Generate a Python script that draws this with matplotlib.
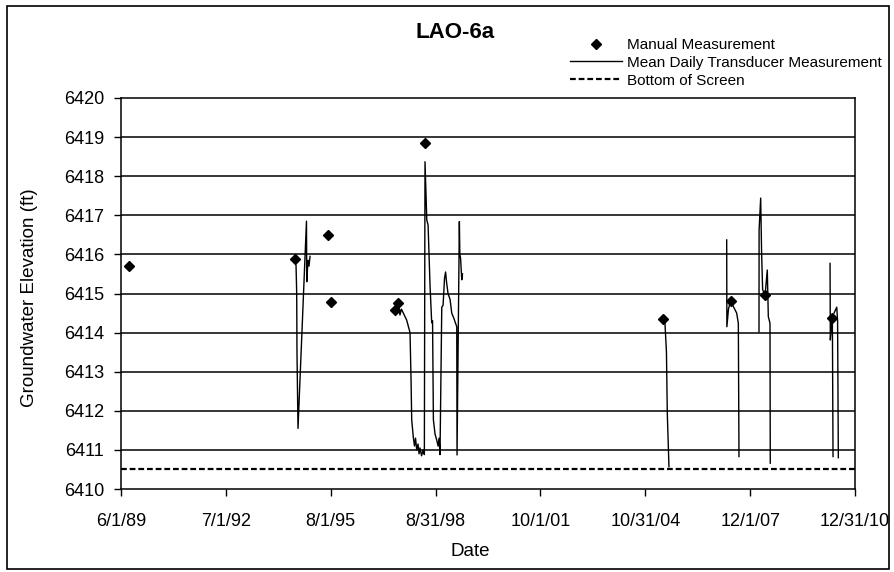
import pandas as pd
import matplotlib.pyplot as plt
import matplotlib.dates as mdates
from matplotlib.patches import Rectangle

plt.rcParams['font.family'] = ['Liberation Sans', 'DejaVu Sans']

# manual measurements (diamonds)
manual_dates = ['1989-08-26', '1994-07-14', '1995-06-30', '1995-08-04', '1997-06-22',
                '1997-07-29', '1998-05-13', '2005-05-12', '2007-05-06', '2008-05-09',
                '2010-05-02']
manual_elev = [6415.7, 6415.88, 6416.5, 6414.78, 6414.57,
               6414.75, 6418.85, 6414.35, 6414.82, 6414.95,
               6414.37]

# mean daily transducer record, one list per deployment
t94_dates = ['1994-07-14', '1994-07-25', '1994-08-01', '1994-08-04', '1994-08-15',
             '1994-11-14', '1994-11-17', '1994-11-30', '1994-12-11', '1994-12-22']
t94_elev = [6415.88, 6415.7, 6415.0, 6413.5, 6411.55,
            6416.85, 6415.3, 6415.85, 6415.7, 6415.95]

t97_dates = ['1997-06-22', '1997-07-29', '1997-08-14', '1997-08-30', '1997-09-19',
             '1997-10-25', '1997-11-30', '1997-12-11', '1997-12-18', '1998-01-04',
             '1998-01-17', '1998-01-28', '1998-02-10', '1998-02-24', '1998-03-07',
             '1998-03-17', '1998-04-03', '1998-04-19', '1998-05-03', '1998-05-10',
             '1998-05-29', '1998-06-12', '1998-07-03', '1998-07-21', '1998-07-30',
             '1998-08-08', '1998-08-26', '1998-09-13', '1998-09-27', '1998-10-08',
             '1998-10-18', '1998-11-06', '1998-11-20', '1998-12-06', '1998-12-17',
             '1998-12-27', '1999-01-12', '1999-02-03', '1999-02-21', '1999-03-18',
             '1999-04-16', '1999-04-19', '1999-05-14', '1999-05-19', '1999-05-27',
             '1999-06-09', '1999-06-17']
t97_elev = [6414.57, 6414.75, 6414.45, 6414.6, 6414.5,
            6414.32, 6414.0, 6412.8, 6411.77, 6411.33,
            6411.1, 6411.3, 6411.0, 6411.15, 6410.9,
            6411.05, 6410.85, 6411.0, 6410.88, 6418.37,
            6416.88, 6416.75, 6415.2, 6414.25, 6414.3,
            6411.77, 6411.4, 6411.25, 6411.1, 6411.3,
            6410.88, 6414.65, 6414.7, 6415.4, 6415.55,
            6415.3, 6415.0, 6414.85, 6414.5, 6414.35,
            6414.15, 6410.87, 6416.84, 6416.0, 6415.9,
            6415.35, 6415.5]

t05_dates = ['2005-05-12', '2005-05-30', '2005-06-15', '2005-06-24', '2005-07-12']
t05_elev = [6414.35, 6414.24, 6413.5, 6411.94, 6410.57]

t07_dates = ['2007-03-24', '2007-03-26', '2007-04-12', '2007-05-06', '2007-06-03',
             '2007-07-09', '2007-07-27', '2007-08-03']
t07_elev = [6416.37, 6414.15, 6414.6, 6414.82, 6414.67,
            6414.5, 6414.24, 6410.83]

t08_dates = ['2008-03-05', '2008-03-06', '2008-03-23', '2008-04-02', '2008-04-13',
             '2008-05-09', '2008-06-02', '2008-06-13', '2008-07-01', '2008-07-04']
t08_elev = [6414.02, 6416.62, 6417.44, 6416.03, 6415.1,
            6414.95, 6415.6, 6414.41, 6414.24, 6410.66]

t10_dates = ['2010-04-07', '2010-04-10', '2010-04-23', '2010-05-02', '2010-05-09',
             '2010-05-15', '2010-05-20', '2010-06-18', '2010-06-27', '2010-07-05']
t10_elev = [6415.77, 6413.81, 6414.2, 6414.37, 6410.83,
            None, 6414.5, 6414.65, 6414.3, 6410.8]

screen_bottom = 6410.5

tick_dates = ['1989-06-01', '1992-07-01', '1995-08-01', '1998-08-31',
              '2001-10-01', '2004-10-31', '2007-12-01', '2010-12-31']
tick_labels = ['6/1/89', '7/1/92', '8/1/95', '8/31/98',
               '10/1/01', '10/31/04', '12/1/07', '12/31/10']

fig = plt.figure(figsize=(8.95, 5.72), dpi=100)
ax = fig.add_axes([121/895, 1-489/572, 734/895, 391/572])

ax.set_ylim(6410, 6420)
ax.set_yticks(range(6410, 6421))
ax.set_xlim(pd.Timestamp(tick_dates[0]), pd.Timestamp(tick_dates[-1]))
ax.set_xticks(pd.to_datetime(tick_dates))
ax.set_xticklabels(tick_labels)

# horizontal gridlines
for yv in range(6411, 6420):
    ax.axhline(yv, color='black', lw=1.1, zorder=1)

segments = [(t94_dates, t94_elev), (t97_dates, t97_elev), (t05_dates, t05_elev),
            (t07_dates, t07_elev), (t08_dates, t08_elev), (t10_dates, t10_elev)]
for d, v in segments:
    s = pd.Series(v, index=pd.to_datetime(d), dtype=float)
    line, = ax.plot(s.index, s.values, color='black', lw=1.0, zorder=3)

bottom = ax.axhline(screen_bottom, color='black', lw=1.6,
                    linestyle=(0, (2.6, 1.3)), zorder=2)

pts, = ax.plot(pd.to_datetime(manual_dates), manual_elev, linestyle='none',
               marker='D', markersize=5.5, color='black', zorder=4)

for sp in ax.spines.values():
    sp.set_color('black')
    sp.set_linewidth(1.1)

ax.tick_params(axis='both', direction='out', length=5, width=1.0,
               labelsize=13, colors='black')
ax.tick_params(axis='x', pad=12)
ax.tick_params(axis='y', pad=7)

ax.set_ylabel('Groundwater Elevation (ft)', fontsize=13.5, va='center')
ax.yaxis.set_label_coords(-0.125, 0.49)
ax.set_xlabel('Date', fontsize=13.5, va='center')
ax.xaxis.set_label_coords(0.4755, -0.161)

fig.text(455/895, 1-32/572, 'LAO-6a', fontsize=16, fontweight='bold',
         ha='center', va='center')

leg = ax.legend([pts, line, bottom],
                ['Manual Measurement', 'Mean Daily Transducer Measurement', 'Bottom of Screen'],
                loc='upper left', bbox_to_anchor=(570/895, 1-38/572),
                bbox_transform=fig.transFigure, frameon=False, fontsize=11,
                handlelength=3.4, handletextpad=0.3, labelspacing=0.25,
                borderpad=0, borderaxespad=0)

# outer frame round the whole chart
fig.patches.append(Rectangle((7/895, 1-569/572), 882/895, 563/572,
                             transform=fig.transFigure, fill=False,
                             edgecolor='black', lw=1.2))

plt.savefig('out.png', dpi=100)
